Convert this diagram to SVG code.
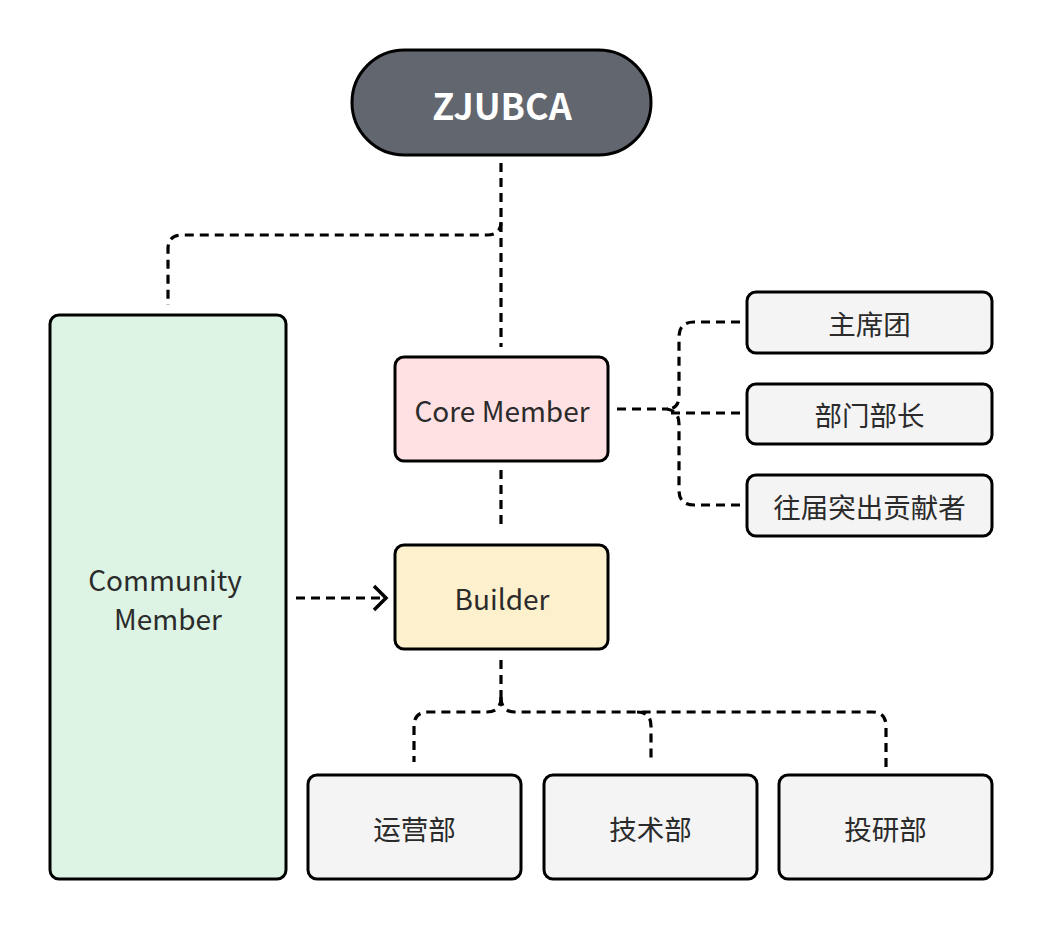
<svg xmlns="http://www.w3.org/2000/svg" width="1042" height="928" viewBox="0 0 1042 928">
<style>
.box{stroke:#000;stroke-width:3}
.lbl{font-family:"Noto Sans CJK SC","Noto Sans",sans-serif;font-size:28px;fill:#2b2b2b;text-anchor:middle;dominant-baseline:central}
.cn{font-family:"Noto Sans CJK SC","Noto Sans",sans-serif;font-size:27.5px;fill:#2b2b2b;text-anchor:middle;dominant-baseline:central}
.con{fill:none;stroke:#000;stroke-width:3.2;stroke-dasharray:9 6}
</style>
<defs>
<marker id="arr" viewBox="0 0 18 28" refX="15" refY="14" markerWidth="18" markerHeight="28" markerUnits="userSpaceOnUse" orient="auto">
<path d="M3,2 L15,14 L3,26" fill="none" stroke="#000" stroke-width="3.5"/>
</marker>
</defs>
<rect width="1042" height="928" fill="#fff"/>
<g id="connectors">
<path class="con" d="M501,163 V347"/>
<path class="con" d="M501,222 Q501,235 487,235 H182 Q168,235 168,249 V305"/>
<path class="con" d="M617,409 H668"/>
<path class="con" d="M740,322 H694 Q679,322 679,337 V396 Q679,409 667,409"/>
<path class="con" d="M740,413 H670"/>
<path class="con" d="M740,505 H694 Q679,505 679,490 V424 Q679,411 667,409"/>
<path class="con" d="M501,470 V527"/>
<path class="con" d="M296,598 H386" marker-end="url(#arr)"/>
<path class="con" d="M501,660 V697"/>
<path class="con" d="M501,697 Q501,712 487,712 H428 Q414,712 414,726 V762"/>
<path class="con" d="M501,697 Q501,712 515,712 H872 Q886,712 886,726 V767"/>
<path class="con" d="M637,712 Q651,712 651,726 V762"/>
</g>
<g id="zjubca">
<rect class="box" x="352" y="50" width="299" height="105" rx="52.5" fill="#61666f"/>
<text x="502" y="104" font-family="'Noto Sans CJK SC','Noto Sans',sans-serif" font-size="36" font-weight="bold" fill="#fff" text-anchor="middle" dominant-baseline="central">ZJUBCA</text>
</g>
<g id="community">
<rect class="box" x="50" y="315" width="236" height="564" rx="9" fill="#ddf4e4"/>
<text class="lbl" x="165" y="579">Community</text>
<text class="lbl" x="168" y="618">Member</text>
</g>
<g id="core">
<rect class="box" x="395" y="357" width="213" height="104" rx="9" fill="#ffe1e3"/>
<text class="lbl" x="502" y="410">Core Member</text>
</g>
<g id="builder">
<rect class="box" x="395" y="545" width="213" height="104" rx="9" fill="#fdf0cc"/>
<text class="lbl" x="502" y="598">Builder</text>
</g>
<g id="zhuxituan">
<rect class="box" x="747" y="292" width="245" height="61" rx="9" fill="#f4f4f4"/>
<text class="cn" x="869.5" y="323">主席团</text>
</g>
<g id="buzhang">
<rect class="box" x="747" y="384" width="245" height="60" rx="9" fill="#f4f4f4"/>
<text class="cn" x="869.5" y="414">部门部长</text>
</g>
<g id="gongxianzhe">
<rect class="box" x="747" y="475" width="245" height="61" rx="9" fill="#f4f4f4"/>
<text class="cn" x="869.5" y="506">往届突出贡献者</text>
</g>
<g id="yunying">
<rect class="box" x="308" y="775" width="213" height="104" rx="9" fill="#f4f4f4"/>
<text class="cn" x="414.5" y="828">运营部</text>
</g>
<g id="jishu">
<rect class="box" x="544" y="775" width="213" height="104" rx="9" fill="#f4f4f4"/>
<text class="cn" x="650.5" y="828">技术部</text>
</g>
<g id="touyan">
<rect class="box" x="779" y="775" width="213" height="104" rx="9" fill="#f4f4f4"/>
<text class="cn" x="885.5" y="828">投研部</text>
</g>
</svg>
